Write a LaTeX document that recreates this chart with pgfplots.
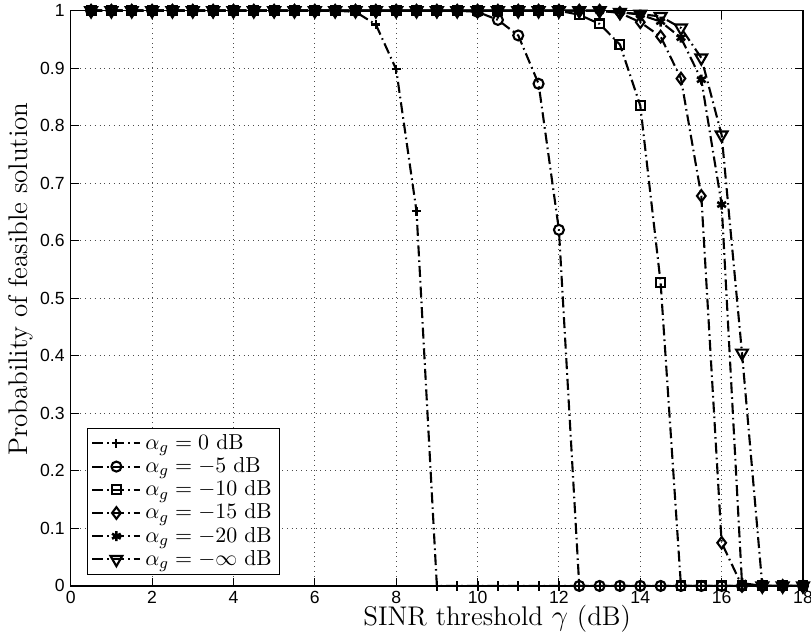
\documentclass[border=0pt]{standalone}
\usepackage{fontspec}
\usepackage{pgfplots}
\pgfplotsset{compat=1.18}
\newfontfamily\tickfont{Liberation Sans}

\pgfplotstableread{
x s0 s5 s10 s15 s20 sinf
0.5 1 1 1 1 1 1
1.0 1 1 1 1 1 1
1.5 1 1 1 1 1 1
2.0 1 1 1 1 1 1
2.5 1 1 1 1 1 1
3.0 1 1 1 1 1 1
3.5 1 1 1 1 1 1
4.0 1 1 1 1 1 1
4.5 1 1 1 1 1 1
5.0 1 1 1 1 1 1
5.5 1 1 1 1 1 1
6.0 1 1 1 1 1 1
6.5 1 1 1 1 1 1
7.0 0.998 1 1 1 1 1
7.5 0.976 1 1 1 1 1
8.0 0.898 1 1 1 1 1
8.5 0.651 1 1 1 1 1
9.0 0 1 1 1 1 1
9.5 0 1 1 1 1 1
10.0 0 0.998 1 1 1 1
10.5 0 0.984 1 1 1 1
11.0 0 0.957 1 1 1 1
11.5 0 0.873 1 1 1 1
12.0 0 0.619 1 1 1 1
12.5 0 0 0.993 1 1 1
13.0 0 0 0.977 1 1 1
13.5 0 0 0.941 0.996 0.998 0.997
14.0 0 0 0.835 0.980 0.993 0.994
14.5 0 0 0.527 0.955 0.981 0.990
15.0 0 0 0 0.882 0.953 0.970
15.5 0 0 0 0.678 0.880 0.918
16.0 0 0 0 0.075 0.663 0.784
16.5 0 0 0 0 0.005 0.405
17.0 0 0 0 0 0 0
17.5 0 0 0 0 0 0
18.0 0 0 0 0 0 0
}\datatable

\begin{document}
\begin{tikzpicture}
\begin{axis}[
  scale only axis,
  width=366pt, height=287.5pt,
  xmin=0, xmax=18, ymin=0, ymax=1,
  xtick={0,2,...,18},
  ytick={0,0.1,0.2,0.3,0.4,0.5,0.6,0.7,0.8,0.9,1},
  yticklabels={0,0.1,0.2,0.3,0.4,0.5,0.6,0.7,0.8,0.9,1},
  tick align=inside,
  major tick length=4pt,
  xtick pos=both, ytick pos=both,
  tick style={black, line width=0.5pt},
  axis line style={black, line width=0.6pt},
  grid=major,
  major grid style={dotted, black!70, line width=0.5pt},
  /pgf/number format/assume math mode=true,
  tick label style={font=\tickfont\fontsize{8.8}{10}\selectfont},
  xticklabel style={yshift=1pt},
  yticklabel style={xshift=0.5pt},
  xlabel={SINR threshold $\gamma$ (dB)},
  ylabel={Probability of feasible solution},
  label style={font=\fontsize{13.5}{16}\selectfont},
  xlabel style={at={(axis description cs:0.5824,0)}, anchor=base, yshift=-20pt},
  ylabel style={at={(axis description cs:-0.068,0.533)}, anchor=center},
  clip=false,
  legend style={at={(axis description cs:0.022,0.019)}, anchor=south west,
     draw=black, line width=0.6pt, fill=white,
     font=\fontsize{10.8}{12.3}\selectfont,
     inner xsep=2pt, inner ysep=1pt, row sep=-1.4pt},
  legend cell align=left,
  legend image code/.code={%
    \draw[mark repeat=2,mark phase=2] plot coordinates {(0cm,0cm) (0.42cm,0cm) (0.84cm,0cm)};},
]
\pgfplotsset{my/.style={black, line width=1.05pt,
     dash pattern=on 5.5pt off 2pt on 0.8pt off 2pt}}
\addplot[my, mark=+, mark size=2.3pt, mark options={solid, line width=1.05pt}] table[x=x,y=s0]{\datatable};
\addlegendentry{$\alpha_g=0$ dB}
\addplot[my, mark=o, mark size=2.5pt, mark options={solid, line width=1.05pt}] table[x=x,y=s5]{\datatable};
\addlegendentry{$\alpha_g=-5$ dB}
\addplot[my, mark=square, mark size=2.2pt, mark options={solid, line width=1.05pt}] table[x=x,y=s10]{\datatable};
\addlegendentry{$\alpha_g=-10$ dB}
\addplot[my, mark=diamond, mark size=2.9pt, mark options={solid, line width=1.05pt}] table[x=x,y=s15]{\datatable};
\addlegendentry{$\alpha_g=-15$ dB}
\addplot[my, mark=asterisk, mark size=2.5pt, mark options={solid, line width=1.3pt}] table[x=x,y=s20]{\datatable};
\addlegendentry{$\alpha_g=-20$ dB}
\addplot[my, mark=triangle, mark size=3.4pt, mark options={solid, line width=1.05pt, rotate=180}] table[x=x,y=sinf]{\datatable};
\addlegendentry{$\alpha_g=-\infty$ dB}
\end{axis}
\path (current axis.south west) ++(-35.35pt,-25.5pt) coordinate (bl);
\path (current axis.north east) ++(4pt,5.35pt) coordinate (tr);
\pgfresetboundingbox
\path[use as bounding box] (bl) rectangle (tr);
\end{tikzpicture}
\end{document}
